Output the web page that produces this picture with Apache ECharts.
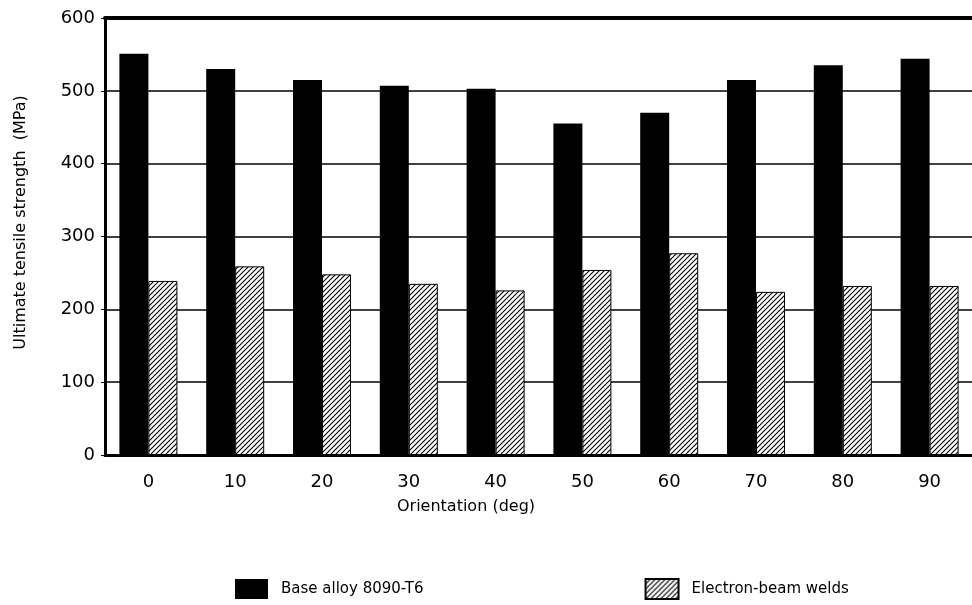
<!DOCTYPE html>
<html>
<head>
<meta charset="utf-8">
<script src="https://cdn.jsdelivr.net/npm/echarts@6/dist/echarts.min.js"></script>
<style>
    html, body { margin: 0; padding: 0; background: #fff; }
    #chart { width: 972px; height: 605px; }
</style>
</head>
<body>
<div id="chart"></div>
<script>
// orientation categories (deg)
var orientations = ['0', '10', '20', '30', '40', '50', '60', '70', '80', '90'];
// ultimate tensile strength, MPa
var baseAlloy = [551, 530, 515, 507, 503, 455, 470, 515, 535, 544];
var ebWelds = [239, 259, 248, 235, 226, 254, 277, 224, 232, 232];
var yTicks = [0, 100, 200, 300, 400, 500, 600];

// diagonal hatch for the weld bars
function hatch() {
    var c = document.createElement('canvas');
    var s = 5;
    c.width = s;
    c.height = s;
    var ctx = c.getContext('2d');
    ctx.fillStyle = '#fff';
    ctx.fillRect(0, 0, s, s);
    ctx.strokeStyle = '#000';
    ctx.lineWidth = 1.1;
    ctx.beginPath();
    ctx.moveTo(-1, s + 1); ctx.lineTo(s + 1, -1);
    ctx.moveTo(-1, 1); ctx.lineTo(1, -1);
    ctx.moveTo(s - 1, s + 1); ctx.lineTo(s + 1, s - 1);
    ctx.stroke();
    return c;
}

var font = "'DejaVu Sans', sans-serif";
var chart = echarts.init(document.getElementById('chart'));

var option = {
    animation: false,
    backgroundColor: '#fff',
    grid: {
        left: 105,
        right: -1,
        top: 18,
        bottom: 150,
        containLabel: false,
        outerBoundsMode: 'none'
    },
    legend: {
        left: 230,
        top: 573,
        icon: 'rect',
        itemWidth: 33,
        itemHeight: 20,
        itemGap: 221,
        textStyle: {
            fontFamily: font,
            fontSize: 15,
            color: '#000',
            padding: [0, 0, 0, 8]
        },
        data: ['Base alloy 8090-T6', 'Electron-beam welds']
    },
    xAxis: [{
        type: 'category',
        data: orientations,
        name: 'Orientation (deg)',
        nameLocation: 'middle',
        nameGap: 44,
        nameTextStyle: {
            fontFamily: font,
            fontSize: 16,
            color: '#000',
            padding: [0, 146, 0, 0]
        },
        axisLine: { lineStyle: { color: '#000', width: 3 } },
        axisTick: { show: false },
        axisLabel: {
            fontFamily: font,
            fontSize: 18,
            color: '#000',
            margin: 18
        }
    }, {
        type: 'category',
        data: orientations,
        position: 'top',
        axisLine: { lineStyle: { color: '#000', width: 4 } },
        axisTick: { show: false },
        axisLabel: { show: false }
    }],
    yAxis: {
        type: 'value',
        min: yTicks[0],
        max: yTicks[yTicks.length - 1],
        interval: 100,
        name: 'Ultimate tensile strength  (MPa)',
        nameLocation: 'middle',
        nameGap: 76,
        nameTextStyle: {
            fontFamily: font,
            fontSize: 16,
            color: '#000',
            padding: [0, 0, 0, 28]
        },
        axisLine: { show: true, lineStyle: { color: '#000', width: 3 } },
        axisTick: { show: true, length: 4, lineStyle: { color: '#000' } },
        axisLabel: {
            fontFamily: font,
            fontSize: 18,
            color: '#000',
            margin: 10
        },
        splitLine: { lineStyle: { color: '#000', width: 1.5 } }
    },
    series: [{
        name: 'Base alloy 8090-T6',
        type: 'bar',
        barWidth: 29,
        barGap: '0%',
        itemStyle: { color: '#000' },
        data: baseAlloy
    }, {
        name: 'Electron-beam welds',
        type: 'bar',
        barWidth: 29,
        itemStyle: {
            color: { image: hatch(), repeat: 'repeat' },
            borderColor: '#000',
            borderWidth: 1
        },
        data: ebWelds
    }]
};

chart.setOption(option);
</script>
</body>
</html>
